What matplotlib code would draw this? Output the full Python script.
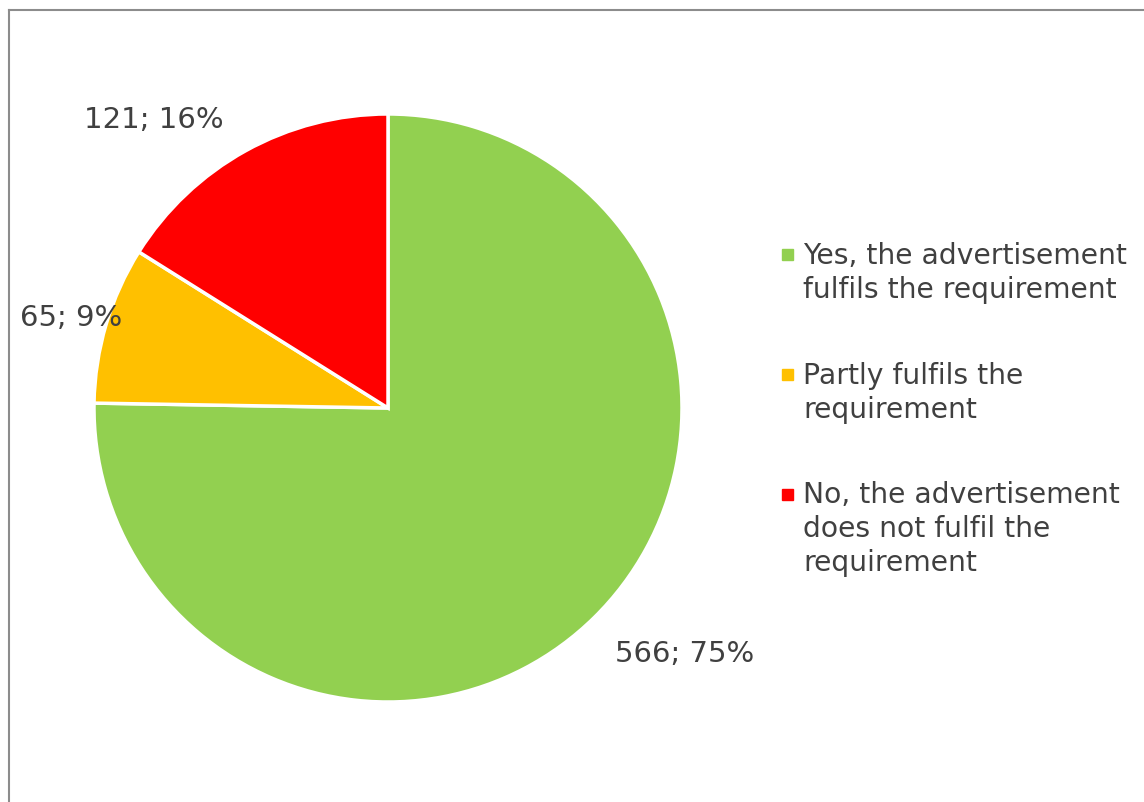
import matplotlib.pyplot as plt
from matplotlib.lines import Line2D
from matplotlib.patches import Rectangle

categories = ["Yes, the advertisement\nfulfils the requirement",
              "Partly fulfils the\nrequirement",
              "No, the advertisement\ndoes not fulfil the\nrequirement"]
counts = [566, 65, 121]
colors = ["#92D050", "#FFC000", "#FF0000"]

W, H = 1144, 802
fig = plt.figure(figsize=(W / 100, H / 100), dpi=100)
txt_col = "#404040"

# pie: centre (388, 408) px, radius 294 px
cx, cy, r = 388, 408, 294
ax = fig.add_axes([(cx - r) / W, (H - cy - r) / H, 2 * r / W, 2 * r / H])
wedges, _ = ax.pie(counts, colors=colors, startangle=90, counterclock=False,
                   wedgeprops=dict(edgecolor="white", linewidth=2.5))
ax.set_xlim(-1, 1)
ax.set_ylim(-1, 1)
ax.set_aspect("equal")
ax.axis("off")

total = sum(counts)
label_pos = [(1.01, -0.836), (-1.078, 0.307), (-0.795, 0.98)]
for v, (lx, ly) in zip(counts, label_pos):
    ax.text(lx, ly, f"{v}; {round(100 * v / total)}%", ha="center", va="center",
            fontsize=21, color=txt_col, clip_on=False)

# legend drawn by hand so the square sits on the first line
first_base = [265, 385, 505]   # baseline of first text line (px)
line_h = 33
for lab, c, yb in zip(categories, colors, first_base):
    n = lab.count("\n")
    fig.text(803 / W, 1 - (yb + n * line_h) / H, lab, fontsize=20.3, color=txt_col,
             va="baseline", ha="left", linespacing=1.27)
    fig.patches.append(Rectangle((782 / W, 1 - (yb - 5) / H), 11 / W, 11 / H,
                                 transform=fig.transFigure, color=c))

# chart frame (only left and top visible)
fig.lines.append(Line2D([9 / W, 9 / W], [0, 1 - 10 / H], transform=fig.transFigure,
                        color="#8c8c8c", lw=1.5))
fig.lines.append(Line2D([9 / W, 1], [1 - 10 / H, 1 - 10 / H], transform=fig.transFigure,
                        color="#8c8c8c", lw=1.5))

fig.savefig("out.png", dpi=100)
